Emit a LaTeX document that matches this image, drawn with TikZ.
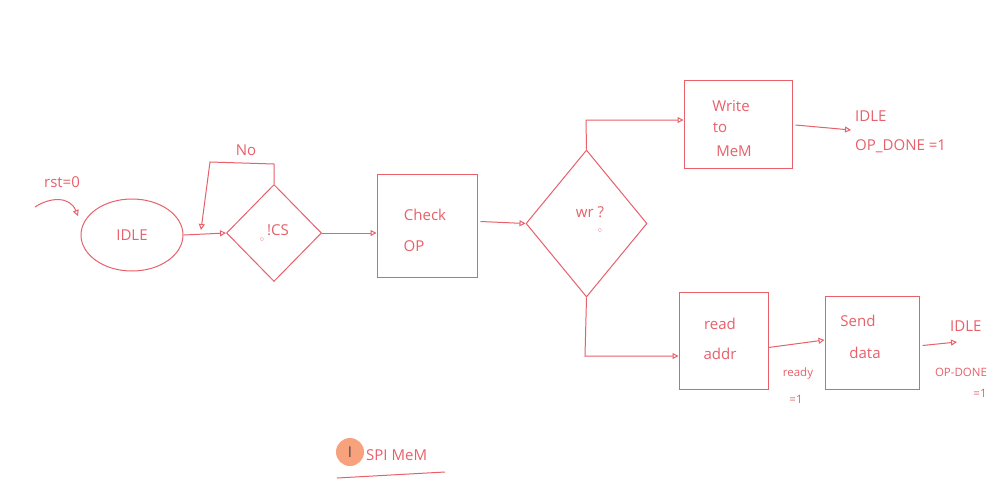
\documentclass[tikz,border=0pt]{standalone}
\usepackage{fontspec}
\setmainfont{Open Sans}
\usetikzlibrary{shapes.geometric,arrows.meta}
\definecolor{pen}{HTML}{E8606A}
\definecolor{dot}{HTML}{F7A27C}
\begin{document}
\begin{tikzpicture}[x=1pt,y=-1pt,
  every node/.style={text=pen,font=\fontsize{15}{17}\selectfont},
  line/.style={draw=pen,line width=1pt},
  arr/.style={line,-{Triangle[open,length=6pt,width=6pt]}},
  lbl/.style={inner sep=0pt},
  small/.style={inner sep=0pt,font=\fontsize{11.5}{13}\selectfont}]
\useasboundingbox[fill=white] (0,0) rectangle (1003,498);
% nodes
\node[line,ellipse,minimum width=102pt,minimum height=72pt] (idle) at (132,235) {IDLE};
\node[line,diamond,minimum width=95pt,minimum height=97pt,inner sep=0pt] (cs) at (274,233) {};
\node[lbl] (cst) at (278,230) {!CS};
\node[lbl,font=\fontsize{8}{8}\selectfont] (csd) at (262,240) {$\circ$};
\node[line,minimum width=100pt,minimum height=103pt] (chk) at (427,225.5) {};
\node[lbl] (chk1) at (425,215) {Check};
\node[lbl] (chk2) at (414,246) {OP};
\node[line,diamond,minimum width=121pt,minimum height=147pt,inner sep=0pt] (wr) at (586.5,223.5) {};
\node[lbl] (wrt) at (590,212) {wr ?};
\node[lbl,font=\fontsize{8}{8}\selectfont] (wrd) at (600,231) {$\circ$};
\node[line,minimum width=108pt,minimum height=88pt] (wm) at (738,124) {};
\node[lbl] (wm1) at (731,106) {Write};
\node[lbl] (wm2) at (720,128) {to};
\node[lbl] (wm3) at (734,151) {MeM};
\node[lbl,anchor=west] (idle2) at (855,116) {IDLE};
\node[lbl,anchor=west] (opd1) at (855,146) {OP\_DONE =1};
\node[line,minimum width=89pt,minimum height=97pt] (ra) at (723.5,340.5) {};
\node[lbl] (ra1) at (720,324) {read};
\node[lbl] (ra2) at (720,354) {addr};
\node[line,minimum width=94pt,minimum height=93pt] (sd) at (872,342.5) {};
\node[lbl] (sd1) at (858,321) {Send};
\node[lbl] (sd2) at (865,353) {data};
\node[lbl,anchor=west] (idle3) at (950,326) {IDLE};
\node[small] (opd2) at (961,372) {OP-DONE};
\node[small] (opd3) at (980,393) {=1};
\node[small] (rdy1) at (798,374) {ready};
\node[small] (rdy2) at (796,399) {=1};
\node[lbl] (rst) at (62,182) {rst=0};
\node[lbl] (no) at (246,150) {No};
\node[circle,fill=dot,minimum size=28pt,inner sep=0pt,text=black!70] (circ) at (350,452) {I};
\node[lbl,anchor=west] (title) at (366,455) {SPI MeM};
% coordinates
\coordinate (rs0) at (35,207);
\coordinate (rs1) at (78,216);
\coordinate (lp1) at (274,164);
\coordinate (lp2) at (210,162);
\coordinate (lp3) at (201,230);
\coordinate (up1) at (586,120);
\coordinate (dn1) at (585,356);
\coordinate (e1) at (851,130);
\coordinate (e2) at (957,342);
\coordinate (ul1) at (337,478);
\coordinate (ul2) at (445,472);
% connectors
\draw[arr] (rs0) .. controls (50,197) and (70,196) .. (rs1);
\draw[arr] (idle.east) -- (cs.west);
\draw[arr] (cs.north) -- (lp1) -- (lp2) -- (lp3);
\draw[arr] (cs.east) -- (chk.west |- cs.east);
\draw[arr] (chk.east) ++(3,-4) coordinate (c0) -- (wr.west);
\draw[arr] (wr.north) -- (up1) -- (wm.west |- up1);
\draw[arr] (wm.east) ++(3,1) coordinate (w0) -- (e1);
\draw[arr] (wr.south) -- (dn1) -- (ra.west |- dn1);
\draw[arr] (ra.east) ++(0,7) coordinate (r0) -- (sd.west |- 0,340);
\draw[arr] (sd.east) ++(3,3) coordinate (s0) -- (e2);
\draw[line] (ul1) -- (ul2);
\end{tikzpicture}
\end{document}
